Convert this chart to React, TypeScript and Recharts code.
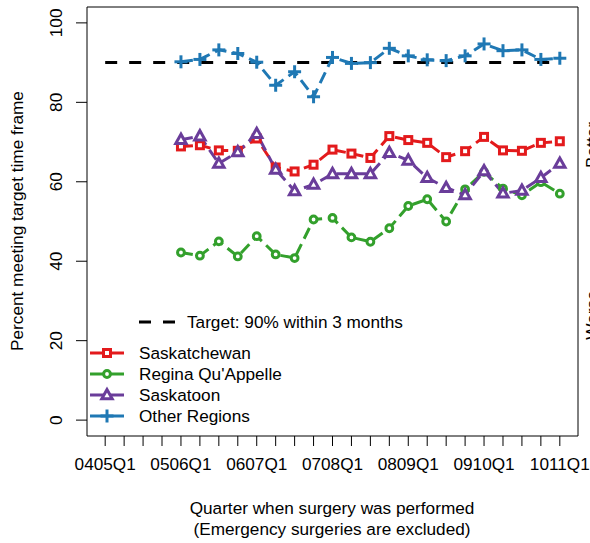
import React from 'react';
import { LineChart, Line, XAxis, YAxis, ReferenceArea } from 'recharts';

// ---- data ----
const quarterLabels = ['0405Q1', '0506Q1', '0607Q1', '0708Q1', '0809Q1', '0910Q1', '1011Q1'];
const quarterCount = 25; // 0405Q1 .. 1011Q1
const firstDataQuarter = 4; // series start at 0506Q1
const targetValue = 90;

const saskatchewan = [68.9, 69.2, 67.9, 67.8, 70.9, 63.6, 62.6, 64.3, 68.1, 67.1, 66.0, 71.5, 70.5, 69.8, 66.2, 67.7, 71.3, 67.9, 67.8, 69.8, 70.2];
const reginaQuAppelle = [42.2, 41.4, 45.0, 41.2, 46.3, 41.7, 40.8, 50.5, 50.9, 46.0, 44.9, 48.3, 53.9, 55.6, 50.0, 58.1, 62.5, 58.3, 56.6, 59.9, 57.0];
const saskatoon = [70.6, 71.5, 64.6, 67.5, 72.1, 63.1, 57.7, 59.3, 62.0, 62.0, 62.0, 67.3, 65.4, 61.0, 58.5, 56.7, 62.7, 57.1, 57.8, 61.0, 64.6];
const otherRegions = [90.2, 90.8, 93.2, 92.3, 90.1, 84.3, 87.7, 81.4, 91.3, 89.8, 90.0, 93.6, 91.7, 90.7, 90.5, 91.7, 94.7, 93.0, 93.2, 90.8, 91.1];

const yTicks = [0, 20, 40, 60, 80, 100];

const RED = '#E31A1C';
const GREEN = '#33A02C';
const PURPLE = '#6A3D9A';
const BLUE = '#1F78B4';
const FONT = '"Liberation Sans", Arial, sans-serif';
const FS = 17.2;

const quarters = Array.from({ length: quarterCount }, (_, i) => i);

const data = quarters.map((q) => {
  const k = q - firstDataQuarter;
  const has = k >= 0 && k < saskatchewan.length;
  return {
    q,
    target: targetValue,
    sask: has ? saskatchewan[k] : null,
    regina: has ? reginaQuAppelle[k] : null,
    saskatoon: has ? saskatoon[k] : null,
    other: has ? otherRegions[k] : null,
  };
});

// ---- markers ----
const SquareMark = ({ cx, cy, color }: any) => (
  <rect x={cx - 3.5} y={cy - 3.5} width={7} height={7} fill="white" stroke={color} strokeWidth={3} />
);
const CircleMark = ({ cx, cy, color }: any) => (
  <circle cx={cx} cy={cy} r={3.4} fill="white" stroke={color} strokeWidth={3} />
);
const TriangleMark = ({ cx, cy, color }: any) => (
  <polygon
    points={`${cx},${cy - 5.5} ${cx - 5.2},${cy + 3.8} ${cx + 5.2},${cy + 3.8}`}
    fill="white"
    stroke={color}
    strokeWidth={3}
  />
);
const PlusMark = ({ cx, cy, color }: any) => (
  <g stroke={color} strokeWidth={3}>
    <line x1={cx - 6.5} y1={cy} x2={cx + 6.5} y2={cy} />
    <line x1={cx} y1={cy - 6.5} x2={cx} y2={cy + 6.5} />
  </g>
);

const dotFor = (Comp: any, color: string) => (props: any) => {
  if (props.cx == null || props.cy == null || props.value == null) return <g key={props.key} />;
  return <Comp key={props.key} cx={props.cx} cy={props.cy} color={color} />;
};

const XTick = ({ x, y, payload }: any) => {
  const v = payload.value;
  if (v % 4 !== 0) return <g />;
  return (
    <text x={x} y={y + 22} textAnchor="middle" fontFamily={FONT} fontSize={FS} fill="#000">
      {quarterLabels[v / 4]}
    </text>
  );
};

const YTick = ({ x, y, payload }: any) => (
  <text
    transform={`translate(${x - 12},${y}) rotate(-90)`}
    textAnchor="middle"
    fontFamily={FONT}
    fontSize={FS}
    fill="#000"
  >
    {payload.value}
  </text>
);

const legendItems = [
  { label: 'Saskatchewan', color: RED, Mark: SquareMark },
  { label: "Regina Qu'Appelle", color: GREEN, Mark: CircleMark },
  { label: 'Saskatoon', color: PURPLE, Mark: TriangleMark },
  { label: 'Other Regions', color: BLUE, Mark: PlusMark },
];

export default function App() {
  const lineDash = '12 6';
  return (
    <div style={{ position: 'absolute', left: 0, top: 0, width: 590, height: 543, background: '#fff' }}>
      <LineChart
        width={590}
        height={543}
        data={data}
        margin={{ top: 7, right: 12, bottom: 0, left: 0 }}
      >
        <XAxis
          dataKey="q"
          type="number"
          domain={[-0.96, 24.96]}
          ticks={quarters}
          interval={0}
          allowDataOverflow
          height={107}
          axisLine={false}
          tickLine={{ stroke: '#000', strokeWidth: 1 }}
          tickSize={10}
          tick={<XTick />}
        />
        <YAxis
          type="number"
          domain={[-4, 104]}
          ticks={yTicks}
          allowDataOverflow
          width={87}
          axisLine={false}
          tickLine={{ stroke: '#000', strokeWidth: 1 }}
          tickSize={11}
          tick={<YTick />}
        />
        <ReferenceArea x1={-0.96} x2={24.96} y1={-4} y2={104} fill="none" stroke="#000" strokeWidth={1} />
        <Line
          dataKey="target"
          stroke="#000"
          strokeWidth={3}
          strokeDasharray="12 12"
          dot={false}
          isAnimationActive={false}
        />
        <Line
          dataKey="sask"
          stroke={RED}
          strokeWidth={3}
          strokeDasharray={lineDash}
          dot={dotFor(SquareMark, RED)}
          isAnimationActive={false}
        />
        <Line
          dataKey="regina"
          stroke={GREEN}
          strokeWidth={3}
          strokeDasharray={lineDash}
          dot={dotFor(CircleMark, GREEN)}
          isAnimationActive={false}
        />
        <Line
          dataKey="saskatoon"
          stroke={PURPLE}
          strokeWidth={3}
          strokeDasharray={lineDash}
          dot={dotFor(TriangleMark, PURPLE)}
          isAnimationActive={false}
        />
        <Line
          dataKey="other"
          stroke={BLUE}
          strokeWidth={3}
          strokeDasharray={lineDash}
          dot={dotFor(PlusMark, BLUE)}
          isAnimationActive={false}
        />
      </LineChart>
      <svg
        width={590}
        height={543}
        style={{ position: 'absolute', left: 0, top: 0, pointerEvents: 'none' }}
      >
        <g fontFamily={FONT} fontSize={FS} fill="#000">
          <text transform="translate(23,221) rotate(-90)" textAnchor="middle">
            Percent meeting target time frame
          </text>
          <text x={332} y={514} textAnchor="middle">Quarter when surgery was performed</text>
          <text x={332} y={535} textAnchor="middle">(Emergency surgeries are excluded)</text>
          <text transform="translate(598,145) rotate(-90)" textAnchor="middle">Better</text>
          <text transform="translate(598,315) rotate(-90)" textAnchor="middle">Worse</text>

          <line x1={139} y1={322} x2={176} y2={322} stroke="#000" strokeWidth={3} strokeDasharray="12 12" />
          <text x={187} y={328}>Target: 90% within 3 months</text>
          {legendItems.map((it, i) => {
            const y = 353 + i * 21;
            const M = it.Mark;
            return (
              <g key={it.label}>
                <line x1={90} y1={y} x2={124} y2={y} stroke={it.color} strokeWidth={3} />
                <M cx={107} cy={y} color={it.color} />
                <text x={139} y={y + 6}>{it.label}</text>
              </g>
            );
          })}
        </g>
      </svg>
    </div>
  );
}
